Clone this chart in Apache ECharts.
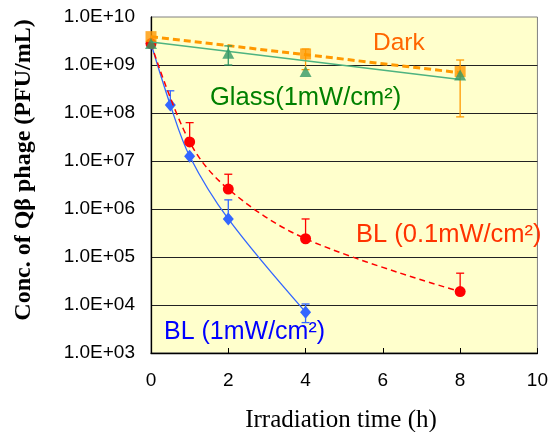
<!DOCTYPE html>
<html>
<head>
<meta charset="utf-8">
<script src="https://cdn.jsdelivr.net/npm/echarts@6/dist/echarts.min.js"></script>
<style>html,body{margin:0;padding:0;background:#fff}#c{width:551px;height:432px}</style>
</head>
<body>
<div id="c"></div>
<script>
// ---- data ----
const xTicks = [0, 2, 4, 6, 8, 10];
const yTickExponents = [3, 4, 5, 6, 7, 8, 9, 10];

const darkX = [0, 4, 8];
const darkY = [3.9e9, 1.7e9, 7.3e8];
const darkErrHigh = [null, 2.15e9, 1.27e9];
const darkErrLow = [null, 8.0e8, 8.3e7];
const darkTrendX = [0, 8];
const darkTrendY = [3.9e9, 6.9e8];

const glassX = [0, 2, 4, 8];
const glassY = [2.8e9, 1.75e9, 7.3e8, 6.2e8];
const glassErrHigh = [null, 2.5e9, null, null];
const glassErrLow = [null, 1.0e9, null, null];
const glassTrendX = [0, 8];
const glassTrendY = [3.0e9, 5.0e8];

const bl01X = [0, 1, 2, 4, 8];
const bl01Y = [2.8e9, 2.5e7, 2.6e6, 2.4e5, 1.9e4];
const bl01ErrHigh = [null, 6.3e7, 5.3e6, 6.2e5, 4.6e4];
const bl01ErrLow = [null, null, null, null, null];

const bl1X = [0, 0.5, 1, 2, 4];
const bl1Y = [2.8e9, 1.47e8, 1.26e7, 6.2e5, 7.1e3];
const bl1ErrHigh = [null, 2.9e8, null, 1.55e6, 1.05e4];
const bl1ErrLow = [null, null, null, null, 4.3e3];

const labels = {
  dark: 'Dark',
  glass: 'Glass(1mW/cm²)',
  bl01: 'BL (0.1mW/cm²)',
  bl1: 'BL (1mW/cm²)',
  xTitle: 'Irradiation time (h)',
  yTitle: 'Conc. of Qβ phage (PFU/mL)'
};

// ---- helpers ----
const zip = (xs, ys) => xs.map((x, i) => [x, ys[i]]);
const errData = (xs, ys, hi, lo) => xs.map((x, i) => [x, ys[i], hi[i] == null ? ys[i] : hi[i], lo[i] == null ? ys[i] : lo[i]])
  .filter((d, i) => hi[i] != null || lo[i] != null);

function errSeries(data, color, z) {
  return {
    type: 'custom', z: z, silent: true,
    data: data,
    renderItem: function (params, api) {
      const x = api.value(0), hi = api.value(2), lo = api.value(3);
      const pHi = api.coord([x, hi]);
      const pLo = api.coord([x, lo]);
      const cap = 4;
      const children = [{
        type: 'line', shape: { x1: pHi[0], y1: pHi[1], x2: pLo[0], y2: pLo[1] },
        style: { stroke: color, lineWidth: 1.3 }
      }];
      if (hi !== api.value(1)) children.push({
        type: 'line', shape: { x1: pHi[0] - cap, y1: pHi[1], x2: pHi[0] + cap, y2: pHi[1] },
        style: { stroke: color, lineWidth: 1.3 }
      });
      if (lo !== api.value(1)) children.push({
        type: 'line', shape: { x1: pLo[0] - cap, y1: pLo[1], x2: pLo[0] + cap, y2: pLo[1] },
        style: { stroke: color, lineWidth: 1.3 }
      });
      return { type: 'group', children: children };
    }
  };
}

const sansFont = '"Liberation Sans", Arial, sans-serif';
const serifFont = '"Liberation Serif", "Times New Roman", serif';

const chart = echarts.init(document.getElementById('c'), null, { renderer: 'canvas' });
chart.setOption({
  animation: false,
  backgroundColor: '#ffffff',
  grid: {
    left: 151, right: 13, top: 17, bottom: 79,
    show: true, backgroundColor: '#ffffcc', borderColor: '#808080', borderWidth: 1
  },
  xAxis: {
    type: 'value', min: xTicks[0], max: xTicks[xTicks.length - 1], interval: 2,
    axisLine: { show: true, lineStyle: { color: '#000', width: 1.3 } },
    axisTick: { show: true, inside: true, length: 5, lineStyle: { color: '#000' } },
    axisLabel: { color: '#000', fontSize: 19, fontFamily: sansFont, margin: 18 },
    splitLine: { show: false }
  },
  yAxis: {
    type: 'log', logBase: 10,
    min: Math.pow(10, yTickExponents[0]),
    max: Math.pow(10, yTickExponents[yTickExponents.length - 1]),
    interval: 1,
    axisLine: { show: true, lineStyle: { color: '#000', width: 1.3 } },
    axisTick: { show: false },
    axisLabel: {
      color: '#000', fontSize: 19, fontFamily: sansFont, margin: 16,
      formatter: function (v) {
        const e = Math.round(Math.log10(v));
        return '1.0E+' + (e < 10 ? '0' + e : '' + e);
      }
    },
    splitLine: { show: true, showMinLine: false, showMaxLine: false, lineStyle: { color: '#222', width: 1 } }
  },
  series: [
    // BL 1mW (blue)
    {
      type: 'line', data: zip(bl1X, bl1Y), smooth: 0.35, z: 3,
      lineStyle: { color: '#3366ff', width: 1.3 },
      symbol: 'diamond', symbolSize: [11, 13],
      itemStyle: { color: '#3366ff' }
    },
    errSeries(errData(bl1X, bl1Y, bl1ErrHigh, bl1ErrLow), '#3366ff', 2),
    // BL 0.1mW (red)
    {
      type: 'line', data: zip(bl01X, bl01Y), smooth: 0.35, z: 4,
      lineStyle: { color: '#ff0000', width: 1.5, type: [6, 4] },
      symbol: 'circle', symbolSize: 11,
      itemStyle: { color: '#ff0000' }
    },
    errSeries(errData(bl01X, bl01Y, bl01ErrHigh, bl01ErrLow), '#ff0000', 3),
    // Dark (orange)
    errSeries(errData(darkX, darkY, darkErrHigh, darkErrLow), '#ff9900', 5),
    {
      type: 'line', data: zip(darkTrendX, darkTrendY), z: 5,
      lineStyle: { color: '#ff9900', width: 3, type: [7, 4] },
      symbol: 'none'
    },
    {
      type: 'scatter', data: zip(darkX, darkY), z: 6,
      symbol: 'rect', symbolSize: 11, itemStyle: { color: '#ff9900' }
    },
    // Glass (green)
    {
      type: 'line', data: zip(glassTrendX, glassTrendY), z: 7,
      lineStyle: { color: '#4db380', width: 1.5 },
      symbol: 'none'
    },
    errSeries(errData(glassX, glassY, glassErrHigh, glassErrLow), '#339966', 7),
    {
      type: 'scatter', data: zip(glassX, glassY), z: 8,
      symbol: 'triangle', symbolSize: [12, 11], itemStyle: { color: '#339966' }
    }
  ],
  graphic: [
    { type: 'text', x: 373, y: 43, style: { text: labels.dark, fill: '#ff6600', font: '24.5px ' + sansFont, textVerticalAlign: 'middle' } },
    { type: 'text', x: 210, y: 98, style: { text: labels.glass, fill: '#008000', font: '25.5px ' + sansFont, textVerticalAlign: 'middle' } },
    { type: 'text', x: 356, y: 235, style: { text: labels.bl01, fill: '#ff3300', font: '25.5px ' + sansFont, textVerticalAlign: 'middle' } },
    { type: 'text', x: 164, y: 332, style: { text: labels.bl1, fill: '#0000ff', font: '25px ' + sansFont, textVerticalAlign: 'middle' } },
    { type: 'text', x: 341, y: 420, style: { text: labels.xTitle, fill: '#000', font: '25px ' + serifFont, textAlign: 'center', textVerticalAlign: 'middle' } },
    { type: 'text', x: 24, y: 170, rotation: Math.PI / 2, style: { text: labels.yTitle, fill: '#000', font: 'bold 24px ' + serifFont, textAlign: 'center', textVerticalAlign: 'middle' } }
  ]
});
</script>
</body>
</html>
